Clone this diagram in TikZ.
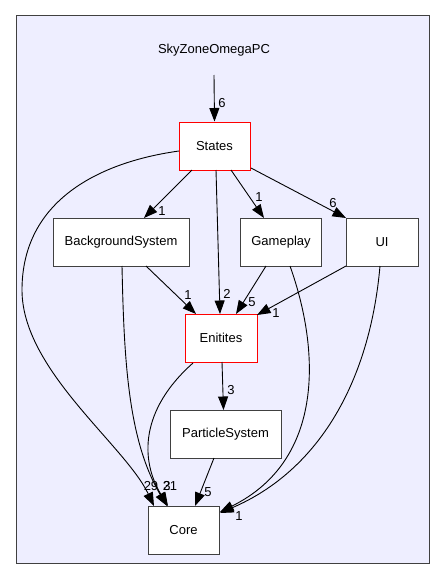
\documentclass[tikz,border=0pt]{standalone}
\usepackage{fontspec}
\setmainfont{Liberation Sans}
\usetikzlibrary{arrows.meta}
\definecolor{bgfill}{HTML}{EEEEFF}
\definecolor{framec}{HTML}{404040}
\begin{document}
\begin{tikzpicture}[x=1pt,y=-1pt,
  font=\fontsize{13}{15}\selectfont,
  box/.style={draw=framec,line width=1pt,fill=white,inner sep=0pt,minimum height=48pt},
  redbox/.style={box,draw=red},
  dep/.style={draw=black,line width=0.9pt,-{Triangle[length=13.5pt,width=10pt]}},
  lbl/.style={inner sep=0pt}]
\useasboundingbox (0,0) rectangle (445,581);
\fill[white] (0,0) rectangle (445,581);
\draw[framec,fill=bgfill,line width=1pt] (16,15) rectangle (429,563);
\node[lbl] (title) at (214,50) {SkyZoneOmegaPC};
\coordinate (tstart) at (214,75);
\node[redbox,minimum width=71pt] (states) at (214.5,146) {States};
\node[box,minimum width=136pt] (bg) at (121,242) {BackgroundSystem};
\node[box,minimum width=81pt] (game) at (281,242) {Gameplay};
\node[box,minimum width=72pt] (ui) at (382,242) {UI};
\node[redbox,minimum width=72pt] (ent) at (221,338) {Enitites};
\node[box,minimum width=111pt] (ps) at (225.5,434) {ParticleSystem};
\node[box,minimum width=71pt] (core) at (183.5,530) {Core};

% edges
\draw[dep] (tstart) -- (states.north);
\node[lbl] at (222,103) {6};

\draw[dep] (192,170) -- (144,218);
\node[lbl] at (162,211) {1};

\draw[dep] (216,170) -- (220,314);
\node[lbl] at (227,294) {2};

\draw[dep] (231,170) -- (264,218);
\node[lbl] at (259,197) {1};

\draw[dep] (251,168) -- (346,218);
\node[lbl] at (333,203) {6};

\draw[dep] (146,266) -- (196,314);
\node[lbl] at (188,295) {1};

\draw[dep] (266,266) -- (236,314);
\node[lbl] at (252,302) {5};

\draw[dep] (346,266) -- (257,315);
\node[lbl] at (276,313) {1};

\draw[dep] (222,362) -- (223.5,410);
\node[lbl] at (231,390) {3};

\draw[dep] (214,458) -- (195,506);
\node[lbl] at (208,492) {5};

% curves to Core
\draw[dep] (179,151) .. controls (100,162) and (22,200) .. (22,290)
  .. controls (22,370) and (125,445) .. (154,506);
\draw[dep] (122,266) .. controls (124,360) and (128,440) .. (167,506);
\draw[dep] (193,363) .. controls (140,410) and (140,460) .. (168,506);
\draw[dep] (290,266) .. controls (320,350) and (325,460) .. (220,512);
\draw[dep] (380,266) .. controls (370,380) and (320,470) .. (220,513);

\node[lbl] at (151,486) {29};
\node[lbl] at (170,486) {21};
\node[lbl] at (167,486) {3};
\node[lbl] at (239,516) {1};
\end{tikzpicture}
\end{document}
